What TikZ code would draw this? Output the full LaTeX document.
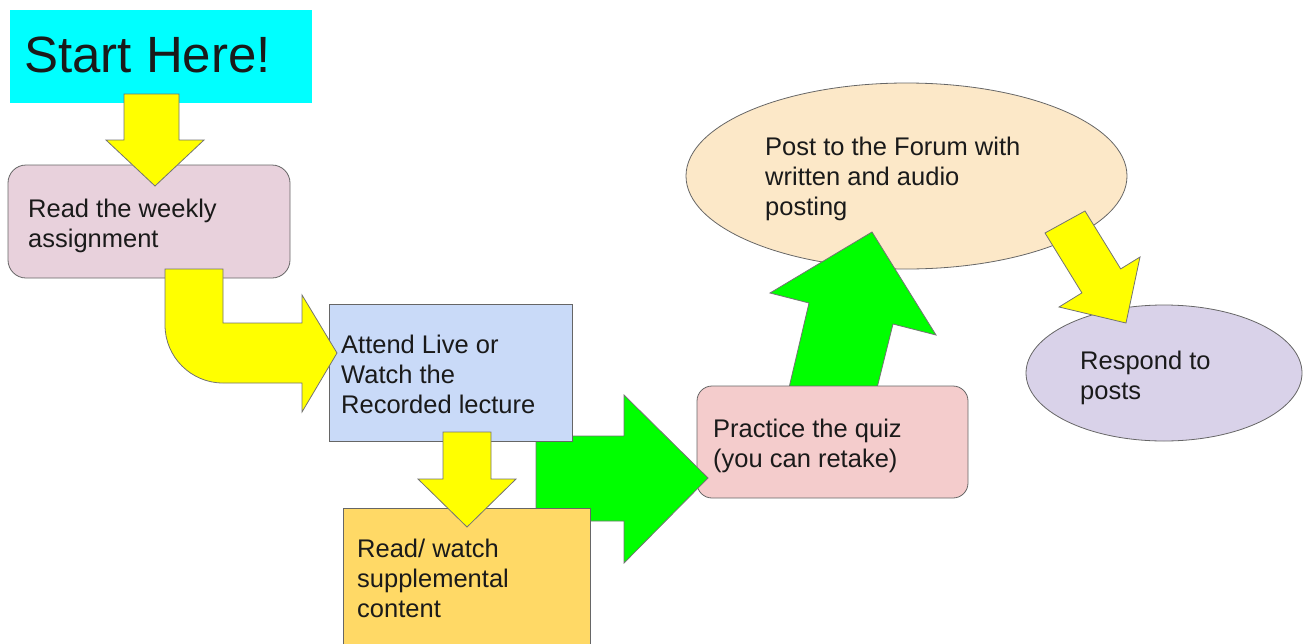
\documentclass[tikz,border=0pt]{standalone}
\usepackage{fontspec}
\setmainfont{Liberation Sans}
\usetikzlibrary{shapes.geometric}
\definecolor{cyanbox}{HTML}{00FFFF}
\definecolor{readcol}{HTML}{E8D1DC}
\definecolor{attendcol}{HTML}{C9DAF8}
\definecolor{rwcol}{HTML}{FFD966}
\definecolor{practicecol}{HTML}{F4CCCC}
\definecolor{postcol}{HTML}{FCE8C8}
\definecolor{respondcol}{HTML}{D9D2E9}
\definecolor{textcol}{HTML}{1A1A1A}
\definecolor{arrowyellow}{HTML}{FFFF00}
\definecolor{arrowgreen}{HTML}{00FF00}
\begin{document}
\begin{tikzpicture}[x=1pt,y=-1pt,
  box/.style={draw=black!60, line width=0.8pt, inner sep=0pt, outer sep=0pt, anchor=north west},
  oval/.style={draw=black!60, line width=0.8pt, ellipse, inner sep=0pt, outer sep=0pt},
  txt/.style={font=\fontsize{25.5}{30}\selectfont, align=left, anchor=base west, inner sep=0pt, text=textcol},
  yarrow/.style={fill=arrowyellow, draw=black!55, line width=0.8pt},
  garrow/.style={fill=arrowgreen, draw=black!55, line width=0.8pt}]
\useasboundingbox (0,0) rectangle (1309,643);
\clip (0,0) rectangle (1309,643);

% Start
\node[fill=cyanbox, inner sep=0pt, outer sep=0pt, minimum width=302pt, minimum height=93pt, anchor=north west] (start) at (10,10) {};
\node[font=\fontsize{51}{60}\selectfont, anchor=base west, inner sep=0pt, text=textcol] (starttxt) at (24,72) {Start Here!};

% Read the weekly assignment
\node[box, rounded corners=18pt, fill=readcol, minimum width=282pt, minimum height=113pt] (read) at (8,165) {};
\draw[yarrow] (124,94) -- (179,94) -- (179,140) -- (204,140) -- (155,186) -- (106,140) -- (124,140) -- cycle;
\node[txt] (readtxt) at (28,247) {Read the weekly\\assignment};

% Post ellipse and green up arrow
\node[oval, fill=postcol, minimum width=441pt, minimum height=186pt] (post) at (906.5,176) {};
\draw[garrow] (788,392) -- (809,303) -- (770,293) -- (872,232) -- (936,335) -- (893,324) -- (876,392) -- cycle;

% Practice
\node[box, rounded corners=15pt, fill=practicecol, minimum width=271pt, minimum height=112pt] (practice) at (697,386) {};

% Green right arrow
\draw[garrow] (536,436) -- (624,436) -- (624,395) -- (708,478) -- (624,563) -- (624,521) -- (536,521) -- cycle;

% Attend
\node[box, fill=attendcol, minimum width=243pt, minimum height=137pt] (attend) at (329,304) {};
% Read / watch
\node[box, fill=rwcol, minimum width=247pt, minimum height=170pt] (rw) at (343,508) {};

% U arrow
\draw[yarrow] (165,269) -- (223,269) -- (223,323) -- (302,323) -- (302,295) -- (337,353) -- (302,412) -- (302,383) -- (223,383)
  .. controls (191,383) and (165,357) .. (165,325) -- cycle;
% Down arrow to Read/watch
\draw[yarrow] (443,432) -- (491,432) -- (491,479) -- (516,479) -- (467,527) -- (418,479) -- (443,479) -- cycle;

% Respond
\node[oval, fill=respondcol, minimum width=276pt, minimum height=136pt] (respond) at (1164,373) {};
\draw[yarrow] (1045,233) -- (1085,211) -- (1120.7,268.9) -- (1140,257) -- (1126,323) -- (1059,307) -- (1081.9,292.9) -- cycle;

% Texts (anchored at the baseline of the last line)
\node[txt] (attendtxt) at (341,413) {Attend Live or\\Watch the\\Recorded lecture};
\node[txt] (rwtxt) at (357,617) {Read/ watch\\supplemental\\content};
\node[txt] (practicetxt) at (713,467) {Practice the quiz\\(you can retake)};
\node[txt] (posttxt) at (765,215) {Post to the Forum with\\written and audio\\posting};
\node[txt] (respondtxt) at (1080,399) {Respond to\\posts};
\end{tikzpicture}
\end{document}
